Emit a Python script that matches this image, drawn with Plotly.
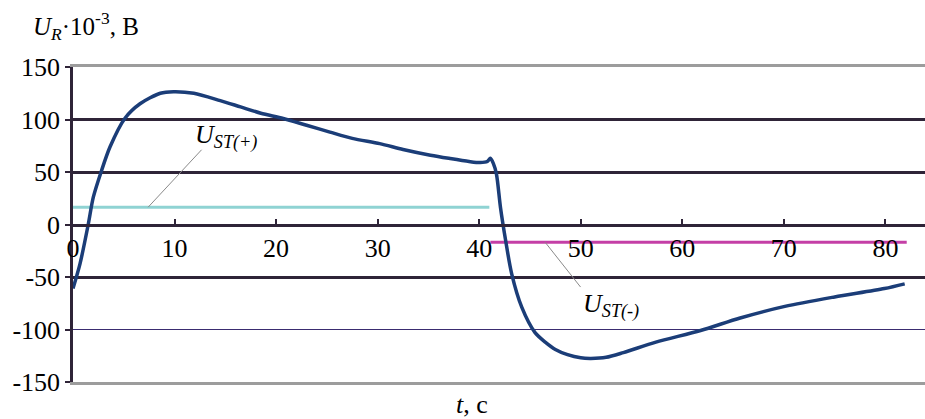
import plotly.graph_objects as go

# Data
t_ur = [0, 0.7, 1.5, 2.0, 2.8, 3.65, 5.1, 6.6, 8.6, 9.9, 11.9, 14.5, 16.5, 18.5, 20.7,
        23.0, 25.3, 27.5, 30.2, 32.5, 35.2, 37.0, 39.0, 40.1, 40.8, 41.1, 41.4, 41.7,
        42.1, 42.6, 43.2, 44.2, 45.5, 46.5, 47.5, 48.7, 50.0, 51.0, 52.5, 54.2, 57.4,
        61.8, 65.7, 70.1, 75.0, 79.9, 81.9]
u_r = [-61, -37, 0, 26, 51, 74, 101, 115, 125, 126.5, 125, 118, 112, 106, 101,
       94.5, 88, 82, 77, 71.5, 66, 63, 60, 59, 60, 63, 58, 48,
       16, -15, -47, -79, -103, -112, -119, -124, -127, -127.5, -126.5, -122, -112,
       -101, -89, -78, -69, -61, -56.5]

t_st_pos = [0, 41.0]
u_st_pos = [16.5, 16.5]
t_st_neg = [41.1, 82.1]
u_st_neg = [-17, -17]

x_ticks = [0, 10, 20, 30, 40, 50, 60, 70, 80]
y_ticks = [-150, -100, -50, 0, 50, 100, 150]
y_tick_text = ["-150", "-100", "-50", "0", "50", "100", "150"]

FONT = "Liberation Serif"
DARK = "#2f2438"
GREY = "#9c9c9c"

fig = go.Figure()
# empty helper traces so the grid / frame axes are drawn
for ax in ["y2", "y3", "y4"]:
    fig.add_trace(go.Scatter(x=[None], y=[None], yaxis=ax, mode="lines",
                             showlegend=False, hoverinfo="skip"))
fig.add_trace(go.Scatter(x=[None], y=[None], xaxis="x2", mode="lines",
                         showlegend=False, hoverinfo="skip"))
fig.add_trace(go.Scatter(x=t_st_pos, y=u_st_pos, mode="lines",
                         line=dict(color="#8fd3d3", width=3), showlegend=False))
fig.add_trace(go.Scatter(x=t_st_neg, y=u_st_neg, mode="lines",
                         line=dict(color="#c43fa6", width=3), showlegend=False))
fig.add_trace(go.Scatter(x=t_ur, y=u_r, mode="lines",
                         line=dict(color="#1b3d78", width=3.5, shape="spline", smoothing=0.8),
                         showlegend=False))

yr = [-150, 150]
xr = [0, 83.9]
fig.update_layout(
    width=925, height=419,
    margin=dict(l=73, r=0, t=67, b=37),
    paper_bgcolor="white", plot_bgcolor="white",
    font=dict(family=FONT, size=26, color="black"),
    xaxis=dict(range=xr, tickvals=x_ticks, anchor="free", position=0.5,
               showgrid=False, zeroline=False, showline=True, linecolor=DARK, linewidth=2.5,
               ticks="inside", ticklen=5, tickwidth=2, tickcolor=DARK,
               tickfont=dict(family=FONT, size=26, color="black")),
    xaxis2=dict(range=xr, overlaying="x", anchor="y", side="bottom", showgrid=False,
                zeroline=False, showticklabels=False, ticks="",
                showline=True, mirror=True, linecolor=GREY, linewidth=3),
    yaxis=dict(range=yr, tickvals=y_ticks, ticktext=y_tick_text, showgrid=False, zeroline=False,
               showline=True, linecolor=DARK, linewidth=2.5,
               ticks="outside", ticklen=5, tickwidth=2, tickcolor=DARK,
               tickfont=dict(family=FONT, size=26, color="black")),
    yaxis2=dict(range=yr, overlaying="y", anchor="x", tickvals=[100, 50, -50], showticklabels=False,
                showgrid=True, gridcolor=DARK, gridwidth=2.5, zeroline=False, showline=False),
    yaxis3=dict(range=yr, overlaying="y", anchor="x", tickvals=[-100], showticklabels=False,
                showgrid=True, gridcolor="#3a2c70", gridwidth=1.2, zeroline=False, showline=False),
    yaxis4=dict(range=yr, overlaying="y", anchor="x", tickvals=[150, -150], showticklabels=False,
                showgrid=True, gridcolor=GREY, gridwidth=3, zeroline=False, showline=False),
)

annotations = [
    dict(text="<i>U</i><sub><i>R</i></sub>·10<sup>-3</sup>, B", xref="paper", yref="paper",
         x=-0.049, y=1.13, xanchor="left", yanchor="middle", showarrow=False,
         font=dict(family=FONT, size=25)),
    dict(text="<i>t</i>, c", xref="paper", yref="paper", x=0.468, y=-0.072,
         xanchor="center", yanchor="middle", showarrow=False, font=dict(family=FONT, size=26)),
    dict(text="<i>U</i><sub><i>ST(+)</i></sub>", xref="x", yref="y", x=11.8, y=84,
         xanchor="left", yanchor="middle", showarrow=False, font=dict(family=FONT, size=26)),
    dict(text="<i>U</i><sub><i>ST(-)</i></sub>", xref="x", yref="y", x=50.0, y=-77,
         xanchor="left", yanchor="middle", showarrow=False, font=dict(family=FONT, size=26)),
    dict(text="", xref="x", yref="y", x=7.4, y=16.5, axref="x", ayref="y", ax=12.8, ay=72.6,
         showarrow=True, arrowhead=0, arrowwidth=1, arrowcolor="#8a8a8a"),
    dict(text="", xref="x", yref="y", x=46.5, y=-17, axref="x", ayref="y", ax=50.1, ay=-61,
         showarrow=True, arrowhead=0, arrowwidth=1, arrowcolor="#8a8a8a"),
]
fig.update_layout(annotations=annotations)

fig.write_html("out.html", config={"displayModeBar": False},
               post_script="document.body.style.margin='0';")
